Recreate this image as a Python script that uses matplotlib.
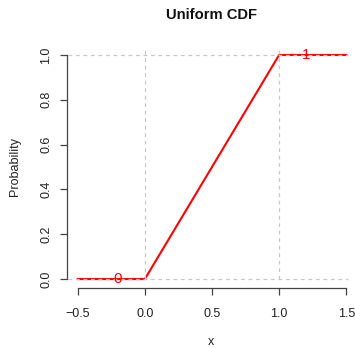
import matplotlib
matplotlib.use("Agg")
import matplotlib.pyplot as plt

# data: uniform(0, 1) cdf evaluated at its breakpoints
x_vals = [-0.5, 0.0, 1.0, 1.5]
cdf_vals = [0.0, 0.0, 1.0, 1.0]
x_ticks = [-0.5, 0.0, 0.5, 1.0, 1.5]
y_ticks = [0.0, 0.2, 0.4, 0.6, 0.8, 1.0]
grid_x = [0.0, 1.0]
grid_y = [0.0, 1.0]
label_pos = [(-0.2, 0.0, "0"), (1.2, 1.0, "1")]

plt.rcParams["font.family"] = ["Liberation Sans", "DejaVu Sans"]

W, H = 355, 348
fig = plt.figure(figsize=(W / 100, H / 100), dpi=100)
# plot region in pixels: x 67..357, y 46..288
ax = fig.add_axes([67 / W, 1 - 288 / H, 290 / W, 242 / H])
ax.set_xlim(-0.58, 1.58)
ax.set_ylim(-0.04, 1.04)

ax.plot(x_vals, cdf_vals, color="red", lw=1.5, zorder=2)

grid_kw = dict(color="#c8c8c8", lw=0.9, linestyles=(0, (3, 3)), zorder=3)
ax.hlines(grid_y, -0.575, 1.51, **grid_kw)
ax.vlines(grid_x, 0.0, 1.03, **grid_kw)

for px, py, s in label_pos:
    ax.text(px, py, s, color="red", fontsize=11, ha="center", va="center", zorder=4)

for side in ("top", "right"):
    ax.spines[side].set_visible(False)
ax.spines["left"].set_bounds(0, 1)
ax.spines["bottom"].set_bounds(-0.5, 1.5)
for side in ("left", "bottom"):
    ax.spines[side].set_color("#444444")
    ax.spines[side].set_linewidth(0.9)

ax.set_xticks(x_ticks)
ax.set_xticklabels(["\u22120.5", "0.0", "0.5", "1.0", "1.5"])
ax.set_yticks(y_ticks)
ax.set_yticklabels(["%.1f" % v for v in y_ticks], rotation=90, va="center")
ax.tick_params(axis="both", direction="out", length=5, width=0.9, color="#444444",
               labelsize=9, labelcolor="#222222")
ax.tick_params(axis="x", pad=9.5)
ax.tick_params(axis="y", pad=5.5)

fig.text(211 / W, 1 - 15 / H, "Uniform CDF", ha="center", va="center",
         fontsize=10.6, fontweight="bold", color="#111111")
fig.text(211 / W, 1 - 342 / H, "x", ha="center", va="center", fontsize=9, color="#222222")
fig.text(15 / W, 1 - 167 / H, "Probability", ha="center", va="center", rotation=90,
         fontsize=9, color="#222222")

fig.savefig("out.png", dpi=100)
